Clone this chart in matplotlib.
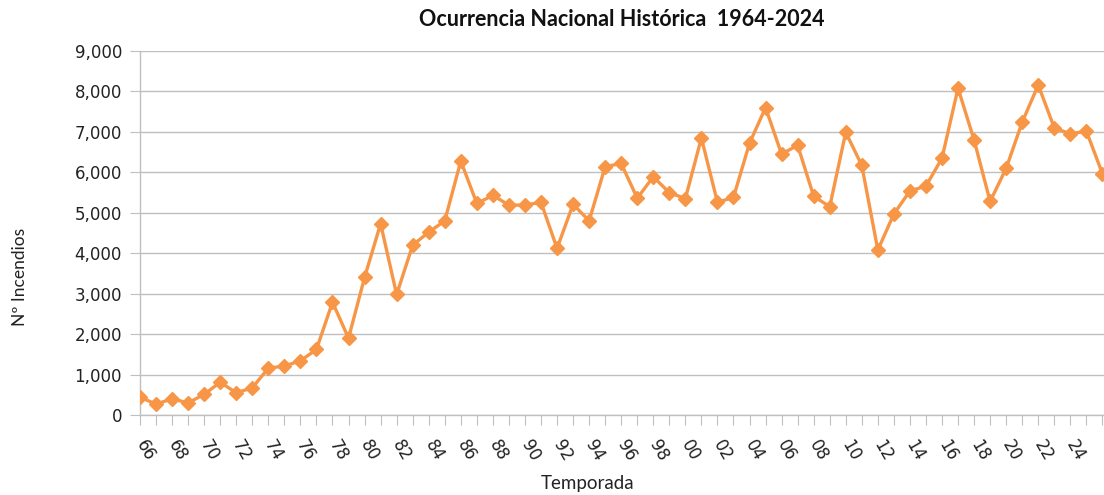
import numpy as np
import matplotlib
matplotlib.use("Agg")
import matplotlib.pyplot as plt
from matplotlib.ticker import FuncFormatter, MultipleLocator

plt.rcParams["font.family"] = ["DejaVu Sans"]

# Temporadas 1965-66 ... 2025-26 (etiqueta = dos últimos dígitos)
temporadas = ["66", "67", "68", "69", "70", "71", "72", "73", "74", "75",
              "76", "77", "78", "79", "80", "81", "82", "83", "84", "85",
              "86", "87", "88", "89", "90", "91", "92", "93", "94", "95",
              "96", "97", "98", "99", "00", "01", "02", "03", "04", "05",
              "06", "07", "08", "09", "10", "11", "12", "13", "14", "15",
              "16", "17", "18", "19", "20", "21", "22", "23", "24", "25",
              "26"]

incendios = [440, 270, 400, 300, 510, 810, 550, 670, 1160, 1210,
             1340, 1620, 2790, 1900, 3400, 4730, 2980, 4200, 4520, 4800,
             6280, 5230, 5430, 5190, 5190, 5260, 4120, 5210, 4800, 6140,
             6220, 5360, 5890, 5500, 5350, 6850, 5260, 5380, 6720, 7600,
             6450, 6670, 5410, 5150, 6990, 6170, 4080, 4970, 5540, 5660,
             6350, 8080, 6800, 5280, 6100, 7240, 8160, 7100, 6950, 7020,
             5970]

naranja = "#F79646"
gris = "#BFBFBF"

fig = plt.figure(figsize=(11.04, 4.95), dpi=100)
ax = fig.add_axes([140 / 1104, 1 - 415 / 495, (1104 - 140) / 1104, (415 - 51) / 495])

x = np.arange(len(incendios))
ax.plot(x, incendios, color=naranja, linewidth=2.4, marker="D", markersize=7,
        markerfacecolor=naranja, markeredgecolor=naranja, zorder=3)

ax.set_xlim(0, 60.1)
ax.set_ylim(0, 9000)
ax.yaxis.set_major_locator(MultipleLocator(1000))
ax.yaxis.set_major_formatter(FuncFormatter(lambda v, p: f"{int(v):,}"))
ax.grid(axis="y", color=gris, linewidth=1)
ax.set_axisbelow(True)

# etiquetas cada dos temporadas (la última queda fuera del recorte)
etiquetas = [t if i % 2 == 0 and i < len(temporadas) - 1 else ""
             for i, t in enumerate(temporadas)]
ax.set_xticks(x)
ax.set_xticklabels(etiquetas, rotation=-60, ha="left", va="center",
                   rotation_mode="anchor")

for s in ["top", "right"]:
    ax.spines[s].set_visible(False)
for s in ["left", "bottom"]:
    ax.spines[s].set_color(gris)
    ax.spines[s].set_linewidth(1)

ax.tick_params(axis="y", length=7, color=gris, labelsize=12, pad=6, labelcolor="#222222")
ax.tick_params(axis="x", length=7, color=gris, labelsize=12, pad=12, labelcolor="#222222")

fig.text(622 / 1104, 1 - 20 / 495, "Ocurrencia Nacional Histórica  1964-2024",
         ha="center", va="center", fontsize=15.5, fontweight="bold",
         family="Lato", color="#111111")
fig.text(588 / 1104, 1 - 483 / 495, "Temporada", ha="center", va="center",
         fontsize=13.5, family="Lato", color="#222222")
fig.text(20 / 1104, 1 - 277 / 495, "Nº Incendios", ha="center", va="center",
         rotation=90, fontsize=12.5, family="Lato", color="#222222")

fig.savefig("out.png", dpi=100)
